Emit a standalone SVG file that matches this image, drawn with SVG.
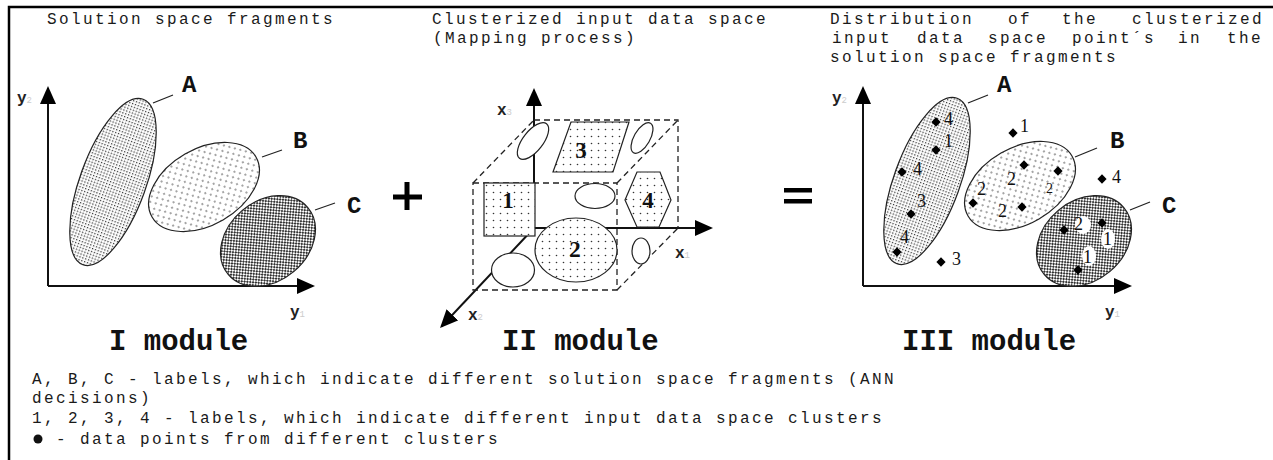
<svg xmlns="http://www.w3.org/2000/svg" width="1273" height="460" viewBox="0 0 1273 460">
<style>
 .t{font-family:"Liberation Mono","Courier New",monospace;font-size:16px;letter-spacing:2.4px;fill:#1a1a1a}
 .b{font-family:"Liberation Mono","Courier New",monospace;font-weight:bold;fill:#111}
 .lbl{font-size:24px}
 .mod{font-size:29px}
 .ax{font-family:"Liberation Mono","Courier New",monospace;font-weight:bold;font-size:16px;fill:#222}
 .sub{font-size:9px;fill:#ccc;font-weight:normal}
 .axis{stroke:#111;stroke-width:2;fill:none;marker-end:url(#arr)}
 .sh{stroke:#222;stroke-width:1.2}
 .dash{stroke:#222;stroke-width:1.3;stroke-dasharray:6 4;fill:none}
 .num{font-family:"Liberation Serif","Times New Roman",serif;font-size:18px;fill:#111}
 .big{font-family:"Liberation Serif","Times New Roman",serif;font-weight:bold;font-size:23px;fill:#111;text-anchor:middle}
 .lead{stroke:#222;stroke-width:1.2}
</style>
<defs>
 <marker id="arr" viewBox="0 0 18 16" refX="16" refY="8" markerWidth="18" markerHeight="16" markerUnits="userSpaceOnUse" orient="auto"><path d="M0,0 L18,8 L0,16 Z" fill="#000"/></marker>
 <pattern id="pA" width="3" height="3" patternUnits="userSpaceOnUse"><rect width="3" height="3" fill="#fff"/><rect x="0" y="0" width="1.3" height="1.3" fill="#333"/></pattern>
 <pattern id="pB" width="8" height="8" patternUnits="userSpaceOnUse"><rect width="8" height="8" fill="#fff"/><circle cx="2" cy="2" r="0.8" fill="#333"/><circle cx="6" cy="6" r="0.8" fill="#333"/></pattern>
 <pattern id="pC" width="4" height="4" patternUnits="userSpaceOnUse"><rect width="4" height="4" fill="#fff"/><path d="M0,0 L4,4 M4,0 L0,4" stroke="#333" stroke-width="1"/></pattern>
 <pattern id="pD" width="7" height="7" patternUnits="userSpaceOnUse"><rect width="7" height="7" fill="#fff"/><circle cx="3.5" cy="3.5" r="0.8" fill="#333"/></pattern>
 <path id="dia" d="M0,-4.8 L4.6,0 L0,4.8 L-4.6,0 Z" fill="#000"/>
</defs>
<rect width="1273" height="460" fill="#fff"/>
<!-- frame -->
<g id="frame" stroke="#000" stroke-width="2.5" fill="none">
 <path d="M9,460 L9,7 L1273,7"/>
</g>

<!-- titles -->
<g id="titles" class="t">
 <text x="47" y="24">Solution space fragments</text>
 <text x="432" y="24">Clusterized input data space</text>
 <text x="433" y="43">(Mapping process)</text>
 <text y="24"><tspan x="830">Distribution</tspan><tspan x="1008">of</tspan><tspan x="1062">the</tspan><tspan x="1132">clusterized</tspan></text>
 <text y="43"><tspan x="832">input</tspan><tspan x="917">data</tspan><tspan x="988">space</tspan><tspan x="1072">point´s</tspan><tspan x="1178">in</tspan><tspan x="1227">the</tspan></text>
 <text x="830" y="62">solution space fragments</text>
</g>

<!-- Module I -->
<g id="module1">
 <line class="axis" x1="48" y1="286" x2="48" y2="88"/>
 <line class="axis" x1="48" y1="286" x2="313" y2="286"/>
 <ellipse class="sh" transform="translate(113,182) rotate(20)" rx="33" ry="88" fill="url(#pA)"/>
 <ellipse class="sh" transform="translate(204,187) rotate(-30)" rx="60" ry="38" fill="url(#pB)"/>
 <ellipse class="sh" transform="translate(268,241) rotate(-40)" rx="52" ry="40" fill="url(#pC)"/>
 <text class="b lbl" x="182" y="92">A</text>
 <text class="b lbl" x="293" y="148">B</text>
 <text class="b lbl" x="347" y="213">C</text>
 <text class="ax" x="17" y="103">y<tspan class="sub">2</tspan></text>
 <text class="ax" x="290" y="317">y<tspan class="sub">1</tspan></text>
 <text class="b mod" x="109" y="350">I module</text>
</g>

<!-- operators -->
<g id="plus">
 <path d="M393,197 L422,197 M407,182 L407,210" stroke="#000" stroke-width="5"/>
</g>
<g id="equals">
 <rect x="784" y="188" width="28" height="4.5" fill="#000"/>
 <rect x="784" y="199" width="28" height="4.5" fill="#000"/>
</g>

<!-- Module II -->
<g id="module2">
 <line class="axis" x1="534" y1="228" x2="534" y2="90"/>
 <line class="axis" x1="534" y1="228" x2="711" y2="228"/>
 <line class="axis" x1="534" y1="228" x2="441.4" y2="326.5"/>
 <rect class="dash" x="473" y="183" width="144" height="107"/>
 <path class="dash" d="M534,120 L678,120 L678,228 M473,183 L534,120 M617,183 L678,120 M617,290 L678,228"/>
 <ellipse class="sh" transform="translate(533,141) rotate(38)" rx="10" ry="22" fill="#fff"/>
 <ellipse class="sh" transform="translate(642,138) rotate(30)" rx="8" ry="17" fill="#fff"/>
 <polygon class="sh" points="571,122 629,122 613,172 553,172" fill="url(#pD)"/>
 <text class="big" x="581" y="158">3</text>
 <rect class="sh" x="484" y="183" width="51" height="53" fill="url(#pD)"/>
 <text class="big" x="508" y="208">1</text>
 <ellipse class="sh" cx="595" cy="196" rx="20" ry="12.5" fill="#fff"/>
 <polygon class="sh" points="637,172 660,172 671,200 659,227 637,227 625,200" fill="url(#pD)"/>
 <text class="big" x="648" y="208">4</text>
 <ellipse class="sh" cx="576" cy="250" rx="41" ry="32" fill="url(#pD)"/>
 <text class="big" x="575" y="257">2</text>
 <ellipse class="sh" cx="513" cy="270" rx="21.5" ry="17" fill="#fff"/>
 <ellipse class="sh" cx="641" cy="251" rx="9" ry="13" fill="#fff"/>
 <text class="ax" x="497" y="115">x<tspan class="sub">3</tspan></text>
 <text class="ax" x="675" y="258">x<tspan class="sub">1</tspan></text>
 <text class="ax" x="468" y="320">x<tspan class="sub">2</tspan></text>
 <text class="b mod" x="502" y="350">II module</text>
</g>

<!-- Module III -->
<g id="module3">
 <g transform="translate(815,0)">
  <line class="axis" x1="48" y1="286" x2="48" y2="88"/>
  <line class="axis" x1="48" y1="286" x2="315" y2="286"/>
  <ellipse class="sh" transform="translate(112,181) rotate(20)" rx="33" ry="88" fill="url(#pA)"/>
  <ellipse class="sh" transform="translate(205,186) rotate(-30)" rx="60" ry="38" fill="url(#pB)"/>
  <ellipse class="sh" transform="translate(269,241) rotate(-40)" rx="52" ry="40" fill="url(#pC)"/>
  <text class="ax" x="17" y="103">y<tspan class="sub">2</tspan></text>
  <text class="ax" x="290" y="317">y<tspan class="sub">1</tspan></text>
 </g>
 <text class="b lbl" x="997" y="92">A</text>
 <text class="b lbl" x="1110" y="148">B</text>
 <text class="b lbl" x="1162" y="213">C</text>
 <ellipse cx="1083" cy="225" rx="8" ry="9" fill="#fff"/>
 <ellipse cx="1108" cy="239" rx="7" ry="10" fill="#fff"/>
 <ellipse cx="1089" cy="256" rx="7" ry="10" fill="#fff"/>
 <use href="#dia" x="936" y="122"/>
 <use href="#dia" x="936" y="150"/>
 <use href="#dia" x="902" y="172"/>
 <use href="#dia" x="911" y="214"/>
 <use href="#dia" x="897" y="252"/>
 <use href="#dia" x="941" y="262"/>
 <use href="#dia" x="1013" y="133"/>
 <use href="#dia" x="1024" y="165"/>
 <use href="#dia" x="1058" y="171"/>
 <use href="#dia" x="973" y="203"/>
 <use href="#dia" x="1022" y="207"/>
 <use href="#dia" x="1102" y="179"/>
 <use href="#dia" x="1064" y="230"/>
 <use href="#dia" x="1102" y="223"/>
 <use href="#dia" x="1078" y="270"/>
 <g class="num">
  <text x="944" y="125">4</text>
  <text x="944" y="147">1</text>
  <text x="913" y="175">4</text>
  <text x="917" y="207">3</text>
  <text x="900" y="243">4</text>
  <text x="952" y="265">3</text>
  <text x="1020" y="132">1</text>
  <text x="977" y="195">2</text>
  <text x="1007" y="185">2</text>
  <text x="1046" y="193" font-size="14">2</text>
  <text x="998" y="217">2</text>
  <text x="1112" y="183">4</text>
  <text x="1074" y="230">2</text>
  <text x="1103" y="245">1</text>
  <text x="1083" y="263">1</text>
 </g>
 <text class="b mod" x="902" y="350">III module</text>
</g>

<!-- leader lines -->
<g id="connectors">
 <line class="lead" x1="153" y1="103" x2="173" y2="95"/>
 <line class="lead" x1="262" y1="157" x2="282" y2="150"/>
 <line class="lead" x1="315" y1="210" x2="335" y2="203"/>
 <line class="lead" x1="968" y1="103" x2="988" y2="95"/>
 <line class="lead" x1="1075" y1="157" x2="1097" y2="148"/>
 <line class="lead" x1="1130" y1="210" x2="1150" y2="202"/>
</g>

<!-- legend -->
<g id="legend" class="t">
 <text x="32" y="384">A, B, C - labels, which indicate different solution space fragments (ANN</text>
 <text x="32" y="403">decisions)</text>
 <text x="32" y="423">1, 2, 3, 4 - labels, which indicate different input data space clusters</text>
 <circle cx="38" cy="439" r="4.5" fill="#111"/>
 <text x="56" y="444">- data points from different clusters</text>
</g>
</svg>
